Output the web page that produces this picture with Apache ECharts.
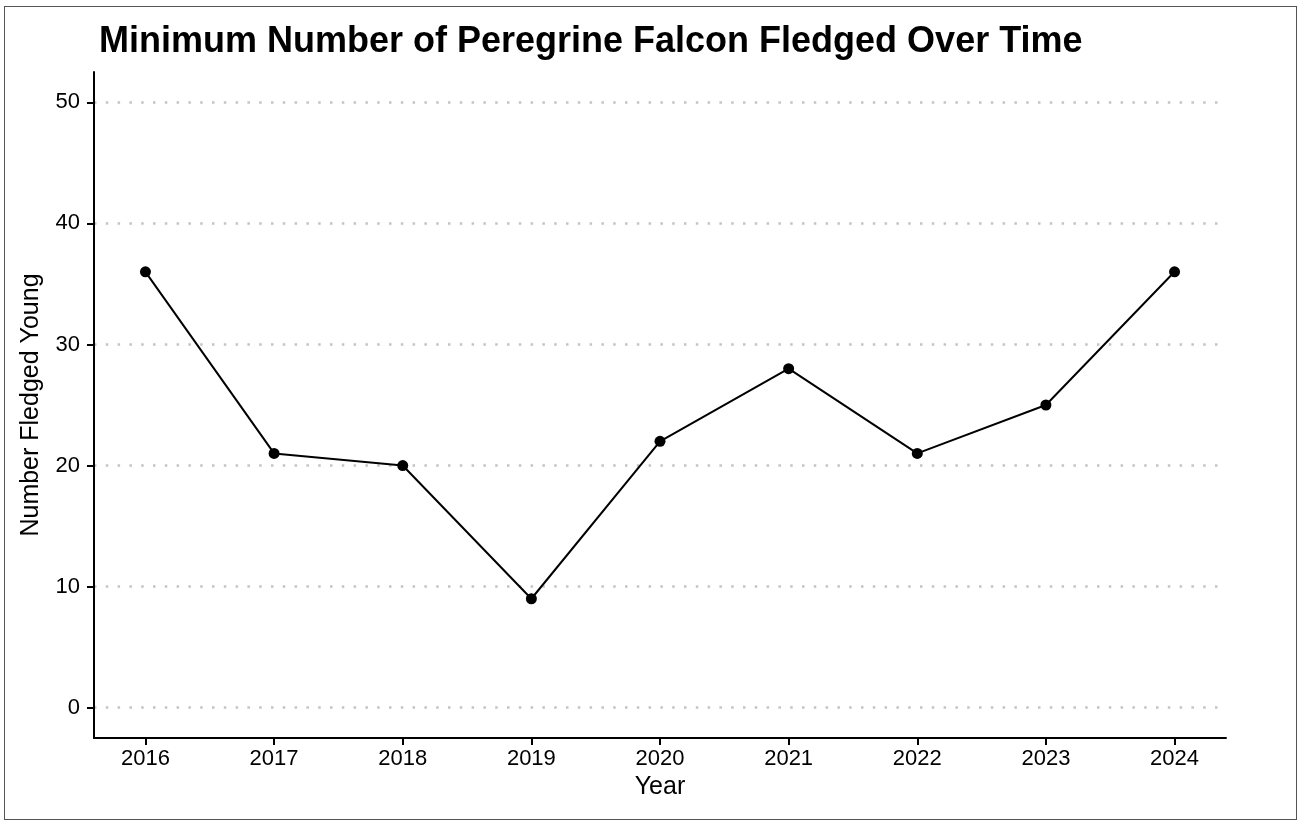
<!DOCTYPE html>
<html>
<head>
<meta charset="utf-8">
<script src="https://cdn.jsdelivr.net/npm/echarts@6/dist/echarts.min.js"></script>
<style>
  html, body { margin: 0; padding: 0; background: #fff; }
  #frame { position: absolute; left: 4px; top: 6px; width: 1293px; height: 814px; border: 1px solid #555; box-sizing: border-box; }
  #chart { width: 1299px; height: 821px; }
</style>
</head>
<body>
<div id="chart"></div>
<div id="frame"></div>
<script>
// 年份与最少出飞幼鸟数
const years = [2016, 2017, 2018, 2019, 2020, 2021, 2022, 2023, 2024];
const fledged = [36, 21, 20, 9, 22, 28, 21, 25, 36];
const yTicks = [0, 10, 20, 30, 40, 50];

let chartDom = document.getElementById('chart');
let myChart = echarts.init(chartDom);

let option = {
  animation: false,
  title: {
    text: 'Minimum Number of Peregrine Falcon Fledged Over Time',
    left: 94,
    top: 19,
    textStyle: {
      fontFamily: 'Liberation Sans',
      fontWeight: 'bold',
      fontSize: 36,
      color: '#000'
    }
  },
  grid: {
    left: 94,
    right: 73,
    top: 72,
    bottom: 83
  },
  xAxis: {
    type: 'value',
    min: 2015.6,
    max: 2024.4,
    name: 'Year',
    nameLocation: 'middle',
    nameGap: 36,
    nameTextStyle: { fontFamily: 'Liberation Sans', fontSize: 25, color: '#000' },
    axisLine: { show: true, onZero: false, lineStyle: { color: '#000', width: 2 } },
    axisTick: { show: true, length: 7, lineStyle: { color: '#000', width: 2 }, customValues: years },
    axisLabel: {
      customValues: years,
      fontFamily: 'Liberation Sans',
      fontSize: 22,
      color: '#000',
      margin: 10,
      formatter: v => String(v)
    },
    splitLine: { show: false }
  },
  yAxis: {
    type: 'value',
    min: -2.5,
    max: 52.5,
    name: 'Number Fledged Young',
    nameLocation: 'middle',
    nameGap: 50,
    nameTextStyle: { fontFamily: 'Liberation Sans', fontSize: 25, color: '#000' },
    axisLine: { show: true, onZero: false, lineStyle: { color: '#000', width: 2 } },
    axisTick: { show: true, length: 7, lineStyle: { color: '#000', width: 2 }, customValues: yTicks },
    axisLabel: {
      customValues: yTicks,
      fontFamily: 'Liberation Sans',
      fontSize: 22,
      color: '#000',
      margin: 14
    },
    splitLine: {
      show: true,
      lineStyle: { color: '#c4c4c4', width: 2.5, type: [2.5, 9.3] }
    }
  },
  series: [
    {
      type: 'line',
      data: years.map((y, i) => [y, fledged[i]]),
      symbol: 'circle',
      symbolSize: 11,
      itemStyle: { color: '#000' },
      lineStyle: { color: '#000', width: 2 }
    }
  ]
};

option && myChart.setOption(option);
</script>
</body>
</html>
